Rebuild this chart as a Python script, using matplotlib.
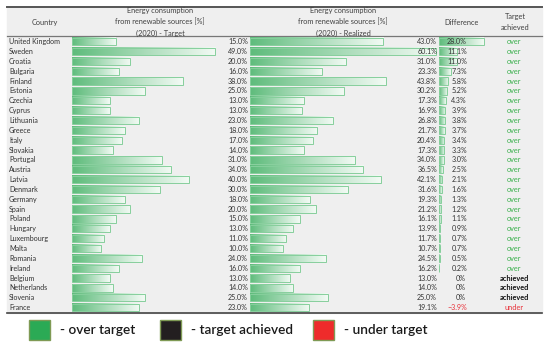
import numpy as np
import matplotlib
matplotlib.use("Agg")
import matplotlib.pyplot as plt
from matplotlib.colors import LinearSegmentedColormap
from matplotlib.patches import Rectangle

plt.rcParams["font.family"] = ["Lato", "DejaVu Sans"]

countries = ["United Kingdom", "Sweden", "Croatia", "Bulgaria", "Finland", "Estonia",
             "Czechia", "Cyprus", "Lithuania", "Greece", "Italy", "Slovakia",
             "Portugal", "Austria", "Latvia", "Denmark", "Germany", "Spain",
             "Poland", "Hungary", "Luxembourg", "Malta", "Romania", "Ireland",
             "Belgium", "Netherlands", "Slovenia", "France"]
target = [15, 49, 20, 16, 38, 25, 13, 13, 23, 18, 17, 14, 31, 34, 40, 30,
          18, 20, 15, 13, 11, 10, 24, 16, 13, 14, 25, 23]
realized = [43.0, 60.1, 31.0, 23.3, 43.8, 30.2, 17.3, 16.9, 26.8, 21.7, 20.4,
            17.3, 34.0, 36.5, 42.1, 31.6, 19.3, 21.2, 16.1, 13.9, 11.7, 10.7,
            24.5, 16.2, 13.0, 14.0, 25.0, 19.1]
difference = [28.0, 11.1, 11.0, 7.3, 5.8, 5.2, 4.3, 3.9, 3.8, 3.7, 3.4, 3.3,
              3.0, 2.5, 2.1, 1.6, 1.3, 1.2, 1.1, 0.9, 0.7, 0.7, 0.5, 0.2,
              0.0, 0.0, 0.0, -3.9]
status = ["over"] * 24 + ["achieved"] * 3 + ["under"]

W, H = 550, 347
fig = plt.figure(figsize=(W / 100, H / 100), dpi=100)

# background layer: grey table body and rules
bg = fig.add_axes([0, 0, 1, 1])
bg.set_xlim(0, W)
bg.set_ylim(H, 0)
bg.axis("off")

top, head, bottom = 7, 36, 312.5
bg.add_patch(Rectangle((7, top), 535, bottom - top, color="#efefef", zorder=0))
bg.plot([7, 542], [top, top], color="#555555", lw=1.4)
bg.plot([7, 542], [head, head], color="#777777", lw=0.9)
bg.plot([7, 542], [bottom, bottom], color="#444444", lw=1.2)

n = len(countries)
row_top = 36.8
row_h = (bottom - row_top) / n
def row_y(i):
    return row_top + row_h * (i + 0.5)

cmap = LinearSegmentedColormap.from_list("bar", ["#5fbc7c", "#f2faf4"])
grad = np.linspace(0, 1, 64).reshape(1, -1)

def bar_axes(x0, x1, xmax):
    b = fig.add_axes([x0 / W, 1 - bottom / H, (x1 - x0) / W, (bottom - row_top) / H])
    b.axis("off")
    b.patch.set_alpha(0)
    b._xmax = xmax
    return b

def draw_bars(b, values, h=0.74):
    for i, v in enumerate(values):
        if v <= 0:
            continue
        b.imshow(grad, cmap=cmap, aspect="auto", extent=(0, v, i + h / 2, i - h / 2),
                 interpolation="bicubic", zorder=1)
        b.add_patch(Rectangle((0, i - h / 2), v, h, fill=False,
                              edgecolor="#86cf9c", lw=0.7, zorder=2))
    b.set_xlim(0, b._xmax)
    b.set_ylim(n - 0.5, -0.5)

ax_t = bar_axes(72, 248, 60.3)
ax_r = bar_axes(250, 437, 60.3)
ax_d = bar_axes(439, 490, 31.9)
draw_bars(ax_t, target)
draw_bars(ax_r, realized)
draw_bars(ax_d, difference)

# text layer on top
ax = fig.add_axes([0, 0, 1, 1])
ax.set_xlim(0, W)
ax.set_ylim(H, 0)
ax.axis("off")
ax.patch.set_alpha(0)

hdr = dict(fontsize=5.3, color="#404040", ha="center", va="center", linespacing=1.75)
ax.text(45, 22, "Country", **hdr)
ax.text(160, 22, "Energy consumption\nfrom renewable sources [%]\n(2020) - Target", **hdr)
ax.text(343, 22, "Energy consumption\nfrom renewable sources [%]\n(2020) - Realized", **hdr)
ax.text(462, 22, "Difference", **hdr)
ax.text(515, 22, "Target\nachieved", **hdr)

cell = dict(fontsize=5.1, color="#333333", va="center")
for i in range(n):
    y = row_y(i)
    ax.text(9, y, countries[i], ha="left", **cell)
    ax.text(248, y, f"{target[i]:.1f}%", ha="right", **cell)
    ax.text(437, y, f"{realized[i]:.1f}%", ha="right", **cell)
    d = difference[i]
    if d > 0:
        ax.text(467, y, f"{d:.1f}%", ha="right", **cell)
    elif d == 0:
        ax.text(466, y, "0%", ha="right", **cell)
    else:
        ax.text(467, y, f"\u2212{abs(d):.1f}%", ha="right", fontsize=5.1,
                color="#e8323a", va="center")
    s = status[i]
    if s == "over":
        ax.text(514, y, "over", ha="center", va="center", fontsize=5.3, color="#3cb04e")
    elif s == "achieved":
        ax.text(514, y, "achieved", ha="center", va="center", fontsize=5.3,
                color="#111111", fontweight="bold")
    else:
        ax.text(514, y, "under", ha="center", va="center", fontsize=5.3, color="#e8323a")

# legend
legend = [("#2baa55", "- over target", 29), ("#231f20", "- target achieved", 160),
          ("#ee2b2b", "- under target", 313)]
for color, label, x in legend:
    ax.add_patch(Rectangle((x, 320), 21, 20, facecolor=color, edgecolor="#7f9a55", lw=1.0))
    ax.text(x + 31, 330, label, ha="left", va="center", fontsize=9.8,
            fontweight="semibold", color="#1a1a1a")

fig.savefig("out.png", dpi=100)
